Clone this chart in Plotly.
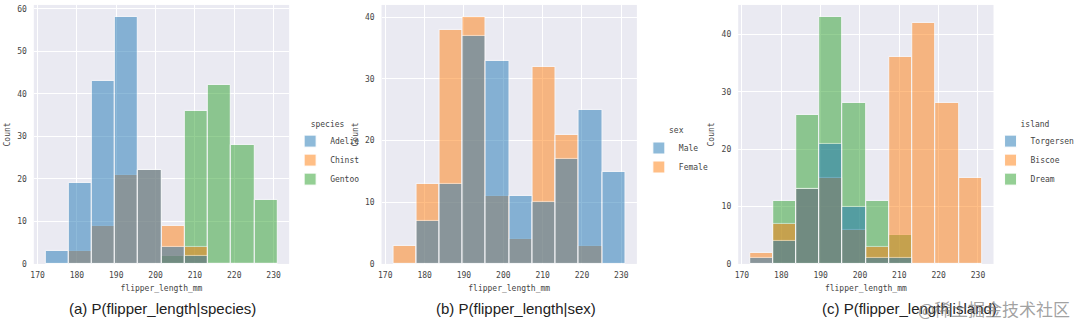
import plotly.graph_objects as go

# ---- data ----
bin_edges = [172.0, 177.9, 183.8, 189.7, 195.6, 201.5, 207.4, 213.3, 219.2, 225.1, 231.0]

species_names = ["Adelie", "Chinst", "Gentoo"]
adelie = [3, 19, 43, 58, 22, 4, 2, 0, 0, 0]
chinstrap = [0, 3, 9, 21, 22, 9, 4, 0, 0, 0]
gentoo = [0, 0, 0, 0, 0, 2, 36, 42, 28, 15]

sex_names = ["Male", "Female"]
male = [0, 7, 13, 37, 33, 11, 10, 17, 25, 15]
female = [3, 13, 38, 40, 11, 4, 32, 21, 3, 0]

island_names = ["Torgersen", "Biscoe", "Dream"]
torgersen = [1, 4, 13, 21, 10, 1, 1, 0, 0, 0]
biscoe = [2, 7, 13, 15, 6, 3, 36, 42, 28, 15]
dream = [0, 11, 26, 43, 28, 11, 5, 0, 0, 0]

x_ticks = [170, 180, 190, 200, 210, 220, 230]
captions = ["(a) P(flipper_length|species)", "(b) P(flipper_length|sex)", "(c) P(flipper_length|island)"]

# ---- styling ----
W, H = 1080, 330
colors = ["#1f77b4", "#ff7f0e", "#2ca02c"]
bg = "#EAEAF2"
mono = "DejaVu Sans Mono"
tick_col = "#444444"

centers = [(bin_edges[i] + bin_edges[i + 1]) / 2 for i in range(len(bin_edges) - 1)]
width = bin_edges[1] - bin_edges[0]
span = bin_edges[-1] - bin_edges[0]
xr = [bin_edges[0] - 0.05 * span, bin_edges[-1] + 0.05 * span]

fig = go.Figure()

panels = [
    (species_names, [adelie, chinstrap, gentoo], "species", (31, 288), "legend", (289, 118)),
    (sex_names, [male, female], "sex", (381, 638), "legend2", (640, 125)),
    (island_names, [torgersen, biscoe, dream], "island", (740, 997), "legend3", (994, 118)),
]

top_px, bot_px = 5, 268
for p, (names, series, title, (x0, x1), leg, (lx, ly)) in enumerate(panels):
    sfx = "" if p == 0 else str(p + 1)
    # draw in reverse order so the first hue level is on top (seaborn layering)
    for k in reversed(range(len(names))):
        fig.add_trace(go.Bar(
            x=centers, y=series[k], width=width, name=names[k],
            marker=dict(color=colors[k], line=dict(color="white", width=1)),
            opacity=0.5, xaxis="x" + sfx, yaxis="y" + sfx, legend=leg,
            legendrank=k + 1,
        ))
    ymax = max(max(s) for s in series) * 1.05
    fig.update_layout(**{
        "xaxis" + sfx: dict(
            domain=[x0 / W, x1 / W], anchor="y" + sfx, range=xr,
            tickvals=x_ticks, showgrid=True, gridcolor="white", gridwidth=1,
            zeroline=False, showline=False, ticks="", ticklabelstandoff=5,
            tickfont=dict(family=mono, size=8, color=tick_col),
            title=dict(text="flipper_length_mm", font=dict(family=mono, size=8, color=tick_col), standoff=6),
        ),
        "yaxis" + sfx: dict(
            domain=[1 - bot_px / H, 1 - top_px / H], anchor="x" + sfx, range=[0, ymax],
            showgrid=True, gridcolor="white", gridwidth=1, zeroline=False,
            showline=False, ticks="", ticklabelstandoff=6,
            tickfont=dict(family=mono, size=8, color=tick_col),
            title=dict(text="Count", font=dict(family=mono, size=8, color=tick_col), standoff=5),
        ),
        leg: dict(
            x=lx / W, y=1 - ly / H, xanchor="left", yanchor="top",
            title=dict(text=title, side="top center", font=dict(family=mono, size=8, color=tick_col)),
            font=dict(family=mono, size=8, color=tick_col),
            bgcolor="rgba(0,0,0,0)", tracegroupgap=0, itemwidth=30,
        ),
    })

cap_x = [161, 516, 912]
for cx, txt in zip(cap_x, captions):
    fig.add_annotation(x=cx / W, y=1 - 313 / H, xref="paper", yref="paper",
                       xanchor="center", yanchor="middle",
                       text=txt, showarrow=False,
                       font=dict(family="Liberation Sans", size=15, color="#222222"))

fig.add_annotation(x=1076 / W, y=1 - 313 / H, xref="paper", yref="paper",
                   xanchor="right", yanchor="middle", text="@稀土掘金技术社区", showarrow=False,
                   font=dict(family="Noto Sans CJK SC", size=17, color="rgba(120,120,120,0.7)"))

fig.update_layout(
    width=W, height=H, margin=dict(l=0, r=0, t=0, b=0),
    paper_bgcolor="white", plot_bgcolor=bg, barmode="overlay",
    bargap=0, showlegend=True,
)

fig.write_html("out.html")
